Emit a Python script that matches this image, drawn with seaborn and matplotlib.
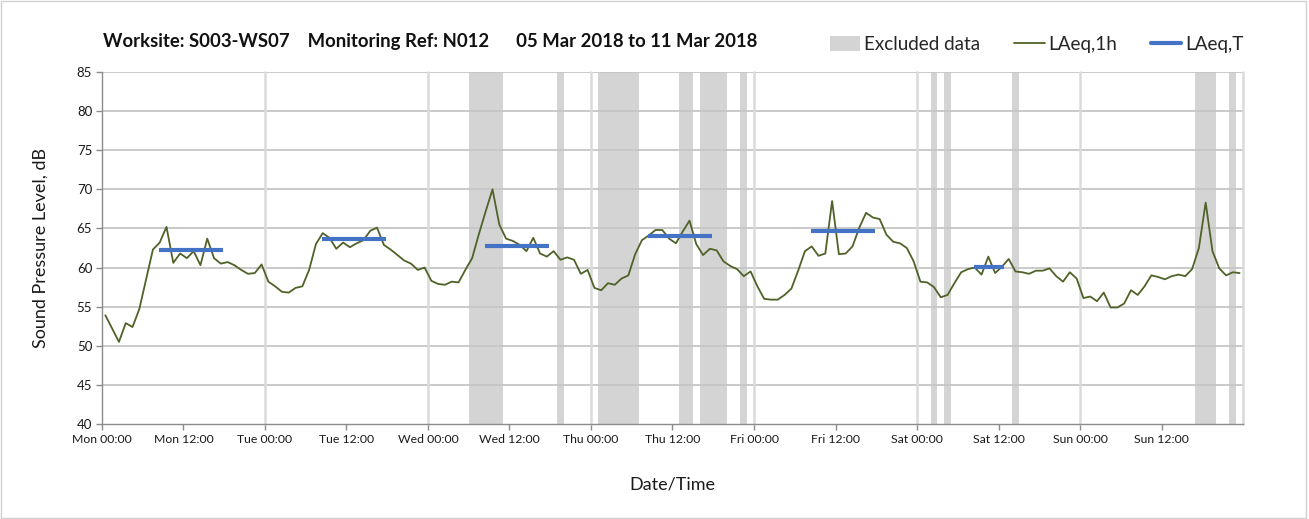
import numpy as np
import pandas as pd
import matplotlib
matplotlib.use("Agg")
import matplotlib.pyplot as plt
from matplotlib.patches import Patch, Rectangle
from matplotlib.lines import Line2D
import seaborn as sns

# Hourly LAeq,1h readings, Mon 00:00 to Sun 23:00 (hour-of-week index)
hours = list(range(168))
laeq_1h = [
    53.9, 52.2, 50.5, 52.9, 52.4, 54.7, 58.5, 62.3, 63.2, 65.2, 60.6, 61.8,
    61.2, 62.1, 60.3, 63.7, 61.2, 60.5, 60.7, 60.3, 59.7, 59.2, 59.3, 60.4,
    58.2, 57.6, 56.9, 56.8, 57.4, 57.6, 59.7, 63.0, 64.4, 63.8, 62.4, 63.2,
    62.6, 63.1, 63.5, 64.7, 65.1, 62.9, 62.3, 61.6, 60.9, 60.5, 59.7, 60.0,
    58.3, 57.9, 57.8, 58.2, 58.1, 59.7, 61.2, 64.3, 67.2, 70.0, 65.5, 63.7,
    63.4, 62.9, 62.1, 63.8, 61.8, 61.4, 62.1, 61.0, 61.3, 61.0, 59.2, 59.7,
    57.4, 57.1, 58.0, 57.8, 58.6, 59.0, 61.7, 63.5, 64.1, 64.8, 64.8, 63.7,
    63.1, 64.6, 66.0, 63.0, 61.6, 62.4, 62.2, 60.8, 60.2, 59.8, 58.9, 59.5,
    57.6, 56.0, 55.9, 55.9, 56.5, 57.3, 59.6, 62.1, 62.7, 61.5, 61.8, 68.5,
    61.7, 61.8, 62.7, 65.1, 67.0, 66.4, 66.2, 64.2, 63.3, 63.1, 62.5, 60.8,
    58.2, 58.1, 57.5, 56.2, 56.5, 58.0, 59.4, 59.8, 60.0, 59.1, 61.4, 59.3,
    60.1, 61.1, 59.5, 59.4, 59.2, 59.6, 59.6, 59.9, 58.9, 58.2, 59.4, 58.6,
    56.1, 56.3, 55.7, 56.8, 54.9, 54.9, 55.4, 57.1, 56.5, 57.6, 59.0, 58.8,
    58.5, 58.9, 59.1, 58.9, 59.8, 62.5, 68.3, 62.1, 59.9, 59.0, 59.4, 59.3,
]

# LAeq,T daytime periods: start hour, end hour (hour-of-week), level
period_start = [8, 32, 56, 80, 104, 128]
period_end = [18, 42, 66, 90, 114, 133]
laeq_t = [62.3, 63.6, 62.8, 64.0, 64.7, 60.1]

# Excluded data windows (hour-of-week)
excl_start = [54, 67, 73, 85, 88, 94, 122, 124, 134, 161, 166]
excl_end = [59, 68, 79, 87, 92, 95, 123, 125, 135, 164, 167]

days = ["Mon", "Tue", "Wed", "Thu", "Fri", "Sat", "Sun"]
tick_labels = [f"{d} {t}" for d in days for t in ("00:00", "12:00")]

title = "Worksite: S003-WS07    Monitoring Ref: N012      05 Mar 2018 to 11 Mar 2018"

sns.set_style("white")
plt.rcParams["font.family"] = ["Lato", "DejaVu Sans"]

GREEN = "#4F6228"
BLUE = "#4472C4"
BAND = "#D4D4D4"

fig = plt.figure(figsize=(13.09, 5.19), dpi=100)
ax = fig.add_axes([0.0779, 0.183, 0.8717, 0.6783])

# excluded-data shading
for s, e in zip(excl_start, excl_end):
    ax.axvspan(s, e, color=BAND, lw=0, zorder=1)

# hourly values plotted at the middle of each hour
df = pd.DataFrame({"hour": np.array(hours) + 0.5, "LAeq,1h": laeq_1h})
sns.lineplot(data=df, x="hour", y="LAeq,1h", ax=ax, color=GREEN, lw=1.3, zorder=4)

# period averages
for s, e, v in zip(period_start, period_end, laeq_t):
    ax.hlines(v, s + 0.45, e - 0.2, color=BLUE, lw=3, zorder=5)

ax.set_xlim(0, 168)
ax.set_ylim(40, 85)
ax.set_yticks(np.arange(40, 86, 5))
ax.set_xticks(np.arange(0, 168, 12))
ax.set_xticklabels(tick_labels)

# grid: horizontal every 5 dB, vertical at midnight
for y in np.arange(45, 86, 5):
    ax.axhline(y, color="#C6C6C6", lw=1.3, zorder=2)
for x in range(24, 169, 24):
    ax.axvline(x, color="#DADADA", lw=1.8, zorder=2, clip_on=False)

for side in ("top", "right"):
    ax.spines[side].set_visible(False)
for side in ("left", "bottom"):
    ax.spines[side].set_color("#8C8C8C")
    ax.spines[side].set_linewidth(1.0)
    ax.spines[side].set_zorder(6)

ax.tick_params(axis="both", which="major", direction="out", length=4,
               color="#8C8C8C", width=1.0, labelsize=9.5, labelcolor="#1a1a1a",
               left=True, bottom=True, pad=3)
ax.tick_params(axis="x", labelsize=8.8)
ax.set_xlabel("Date/Time", fontsize=13, color="#1a1a1a", labelpad=23)
ax.set_ylabel("Sound Pressure Level, dB", fontsize=13, color="#1a1a1a", labelpad=20)

fig.text(0.0787, 0.921, title, fontsize=13.3, fontweight="bold",
         color="#111111", ha="left", va="center")

handles = [
    Patch(facecolor=BAND, edgecolor="none"),
    Line2D([], [], color=GREEN, lw=1.3),
    Line2D([], [], color=BLUE, lw=3),
]
labels = ["Excluded data", "LAeq,1h", "LAeq,T"]
fig.legend(handles, labels, loc="center right", bbox_to_anchor=(0.963, 0.915),
           ncol=3, frameon=False, fontsize=13.6, handlelength=1.6,
           handleheight=0.85, handletextpad=0.2, columnspacing=1.8)

# thin frame around the whole figure
fig.patches.append(Rectangle((0.001, 0.002), 0.997, 0.996, transform=fig.transFigure,
                             fill=False, edgecolor="#D0D0D0", lw=1.0))

fig.savefig("out.png", dpi=100)
